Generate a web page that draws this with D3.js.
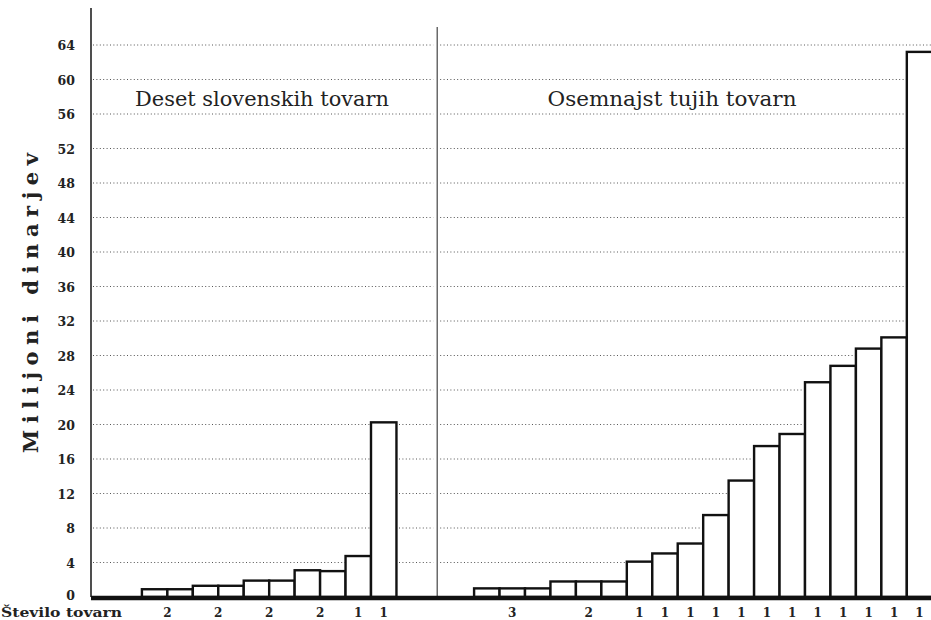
<!DOCTYPE html>
<html><head><meta charset="utf-8">
<script src="https://cdn.jsdelivr.net/npm/d3@7"></script>
<style>html,body{margin:0;padding:0;background:#fff;}svg{display:block;}</style>
</head><body>
<script>
// ---- data ----
const yTicks = [0,4,8,12,16,20,24,28,32,36,40,44,48,52,56,60,64];
const leftTitle = "Deset slovenskih tovarn";
const rightTitle = "Osemnajst tujih tovarn";
const yLabel = "Milijoni dinarjev";
const xLabel = "Število tovarn";
// values in millions of dinars, one per factory bar
const leftValues = [0.9,0.9, 1.3,1.3, 1.9,1.9, 3.1,3.0, 4.75, 20.25];
const leftGroupLabels = ["2","2","2","2","1","1"];
const leftGroupSizes = [2,2,2,2,1,1];
const rightValues = [1.0,1.0,1.0, 1.8,1.8,1.8, 4.1,5.05,6.2,9.5,13.5,17.5,18.9,24.9,26.8,28.8,30.1,63.2];
const rightGroupLabels = ["3","2","1","1","1","1","1","1","1","1","1","1","1","1"];
const rightGroupSizes = [3,3,1,1,1,1,1,1,1,1,1,1,1,1];

// ---- layout ----
const W = 931, H = 620;
const svg = d3.select("body").append("svg").attr("width", W).attr("height", H);
const y = d3.scaleLinear().domain([0,64]).range([597,45]);
const x = d3.scaleLinear().domain([0,33]).range([91,931]);
const leftStart = 2, dividerSlot = 13.6, rightStart = 15.05;
const serif = "'DejaVu Serif', serif";

// gridlines (dotted)
const grid = svg.append("g");
[[93, x(dividerSlot)-4],[x(dividerSlot)+3, 931]].forEach(([a,b]) => {
  grid.selectAll(null).data(yTicks.filter(d=>d>0)).enter().append("line")
    .attr("x1", a).attr("x2", b).attr("y1", d=>y(d)).attr("y2", d=>y(d))
    .attr("stroke", "#555").attr("stroke-width", 1).attr("stroke-dasharray", "1,2.4");
});

// y axis
const yAxis = d3.axisLeft(y).tickValues(yTicks).tickSize(0).tickPadding(16);
const ga = svg.append("g").attr("transform", `translate(${x(0)},0)`).call(yAxis);
ga.select(".domain").remove();
ga.selectAll("text").attr("font-family", serif).attr("font-weight", "bold")
  .attr("font-size", 12.5).attr("fill", "#222").attr("dy", d => d === 0 ? "0.2em" : "0.38em");
svg.append("line").attr("x1", x(0)).attr("x2", x(0)).attr("y1", 8).attr("y2", 597)
  .attr("stroke", "#222").attr("stroke-width", 1.6);

// divider
svg.append("line").attr("x1", x(dividerSlot)).attr("x2", x(dividerSlot)).attr("y1", 27).attr("y2", 597)
  .attr("stroke", "#333").attr("stroke-width", 1.1);

// bars
function drawBars(values, start) {
  svg.append("g").selectAll("rect").data(values).enter().append("rect")
    .attr("x", (d,i)=>x(start+i)).attr("width", x(1)-x(0))
    .attr("y", d=>y(d)).attr("height", d=>y(0)-y(d))
    .attr("fill", "#fff").attr("stroke", "#111").attr("stroke-width", 2.4);
}
drawBars(leftValues, leftStart);
drawBars(rightValues, rightStart);

// baseline
svg.append("line").attr("x1", x(0)).attr("x2", W).attr("y1", y(0)+1).attr("y2", y(0)+1)
  .attr("stroke", "#111").attr("stroke-width", 4.5);

// group count labels
function drawCounts(labels, sizes, start) {
  let pos = start; const centers = [];
  sizes.forEach(s => { centers.push(pos + s/2); pos += s; });
  svg.append("g").selectAll("text").data(labels).enter().append("text")
    .attr("x", (d,i)=>x(centers[i])).attr("y", 617)
    .attr("text-anchor", "middle").attr("font-family", serif).attr("font-weight", "bold")
    .attr("font-size", 12).attr("fill", "#222").text(d=>d);
}
drawCounts(leftGroupLabels, leftGroupSizes, leftStart);
drawCounts(rightGroupLabels, rightGroupSizes, rightStart);

svg.append("text").attr("x", 1).attr("y", 617).attr("font-family", serif).attr("font-weight", "bold")
  .attr("font-size", 12.5).attr("fill", "#222").attr("textLength", 121).attr("lengthAdjust", "spacingAndGlyphs").text(xLabel);

// titles
svg.append("text").attr("x", 262).attr("y", 106).attr("text-anchor", "middle")
  .attr("font-family", serif).attr("font-size", 20).attr("fill", "#222")
  .attr("textLength", 254).attr("lengthAdjust", "spacingAndGlyphs").text(leftTitle);
svg.append("text").attr("x", 672).attr("y", 106).attr("text-anchor", "middle")
  .attr("font-family", serif).attr("font-size", 20).attr("fill", "#222")
  .attr("textLength", 249).attr("lengthAdjust", "spacingAndGlyphs").text(rightTitle);

// y label
svg.append("text").attr("transform", "translate(38,303) rotate(-90)").attr("text-anchor", "middle")
  .attr("font-family", serif).attr("font-weight", "bold").attr("font-size", 21).attr("fill", "#222")
  .attr("textLength", 300).attr("lengthAdjust", "spacing").text(yLabel);
</script>
</body></html>
